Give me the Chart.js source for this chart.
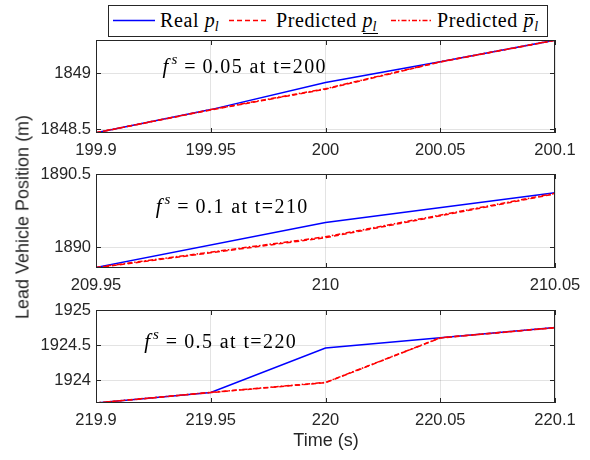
<!DOCTYPE html>
<html><head><meta charset="utf-8">
<script src="https://cdn.jsdelivr.net/npm/chart.js@4.4.1/dist/chart.umd.min.js"></script>
<style>
html,body{margin:0;padding:0;background:#fff;}
#wrap{position:relative;width:590px;height:460px;overflow:hidden;background:#fff;}
#wrap canvas{position:absolute;left:0;}
#legend{position:absolute;left:108px;top:5px;width:440px;height:32px;box-sizing:border-box;border:1px solid #262626;background:#fff;}
#legend svg{position:absolute;left:-109px;top:-6px;}
.lg{position:absolute;top:4px;font-family:"Liberation Serif",serif;font-size:20px;line-height:20px;color:#000;white-space:nowrap;letter-spacing:0.6px;}
.lg i{letter-spacing:0;}
.sb{position:relative;top:4px;font-size:14px;font-style:italic;}
.ul{position:relative;}
.ul .bar{position:absolute;left:0;right:-1px;top:24px;height:1px;background:#000;}
.ov{position:relative;font-style:italic;}
.ov .bar{position:absolute;left:1px;right:-1px;top:5px;height:1px;background:#000;}
.axt{position:absolute;font-family:"Liberation Sans",Arial,sans-serif;font-size:18px;color:#262626;white-space:nowrap;transform:translate(-50%,-50%);}
</style></head>
<body>
<div id="wrap">
  <canvas id="c1"></canvas>
  <canvas id="c2"></canvas>
  <canvas id="c3"></canvas>
  <div id="legend">
    <svg width="590" height="40">
      <line x1="113" y1="20.5" x2="155" y2="20.5" stroke="#0000ff" stroke-width="1.5"/>
      <line x1="229" y1="20.5" x2="268" y2="20.5" stroke="#ff0000" stroke-width="1.5" stroke-dasharray="5,3"/>
      <line x1="391" y1="20.5" x2="432" y2="20.5" stroke="#ff0000" stroke-width="1.5" stroke-dasharray="5,2,1.5,2"/>
    </svg>
    <span class="lg" style="left:51px">Real <i>p</i><span class="sb">l</span></span>
    <span class="lg" style="left:167px">Predicted <span class="ul"><i>p</i><span class="sb">l</span><span class="bar"></span></span></span>
    <span class="lg" style="left:328px">Predicted <span class="ov">p<span class="bar"></span></span><span class="sb">l</span></span>
  </div>
  <div class="axt" style="left:23px;top:217px;transform:translate(-50%,-50%) rotate(-90deg);">Lead Vehicle Position (m)</div>
  <div class="axt" style="left:326px;top:440px;">Time (s)</div>
</div>
<script>
// ---- data ----
const time1 = [199.9, 199.95, 200, 200.05, 200.1];
const real1 = [1848.470, 1848.676, 1848.918, 1849.102, 1849.294];
const lower1 = [1848.470, 1848.673, 1848.858, 1849.099, 1849.292];
const upper1 = [1848.471, 1848.676, 1848.862, 1849.102, 1849.294];

const time2 = [209.95, 210, 210.05];
const real2 = [1889.862, 1890.169, 1890.372];
const lower2 = [1889.859, 1890.065, 1890.364];
const upper2 = [1889.862, 1890.071, 1890.368];

const time3 = [219.9, 219.95, 220, 220.05, 220.1];
const real3 = [1923.680, 1923.830, 1924.460, 1924.605, 1924.750];
const lower3 = [1923.680, 1923.828, 1923.968, 1924.603, 1924.748];
const upper3 = [1923.681, 1923.831, 1923.972, 1924.606, 1924.751];

const xTicks1 = [199.9, 199.95, 200, 200.05, 200.1];
const xLabels1 = ['199.9', '199.95', '200', '200.05', '200.1'];
const xTicks2 = [209.95, 210, 210.05];
const xLabels2 = ['209.95', '210', '210.05'];
const xTicks3 = [219.9, 219.95, 220, 220.05, 220.1];
const xLabels3 = ['219.9', '219.95', '220', '220.05', '220.1'];

const yTicks1 = [1848.5, 1849];
const yLabels1 = ['1848.5', '1849'];
const yTicks2 = [1890, 1890.5];
const yLabels2 = ['1890', '1890.5'];
const yTicks3 = [1924, 1924.5, 1925];
const yLabels3 = ['1924', '1924.5', '1925'];

const xRange1 = [199.9, 200.1], yRange1 = [1848.468, 1849.295];
const xRange2 = [209.95, 210.05], yRange2 = [1889.858, 1890.5];
const xRange3 = [219.9, 220.1], yRange3 = [1923.68, 1925];

const annText = ['0.05 at t=200', '0.1 at t=210', '0.5 at t=220'];
const annPos = [[199.929, 1849.005], [209.963, 1890.236], [219.921, 1924.467]];

// ---- drawing ----
const AX = '#262626';
const TICKFONT = {family: '"Liberation Sans", Arial, sans-serif', size: 16.5};

const boxPlugin = {
  id: 'boxTicks',
  afterDatasetsDraw(chart) {
    const {ctx, chartArea: a, scales: {x, y}} = chart;
    ctx.save();
    ctx.strokeStyle = AX; ctx.lineWidth = 1;
    ctx.beginPath();
    x.ticks.forEach(t => {
      const px = Math.round(x.getPixelForValue(t.value)) + 0.5;
      ctx.moveTo(px, a.bottom); ctx.lineTo(px, a.bottom - 5);
      ctx.moveTo(px, a.top); ctx.lineTo(px, a.top + 5);
    });
    y.ticks.forEach(t => {
      const py = Math.round(y.getPixelForValue(t.value)) + 0.5;
      ctx.moveTo(a.left, py); ctx.lineTo(a.left + 5, py);
      ctx.moveTo(a.right, py); ctx.lineTo(a.right - 5, py);
    });
    ctx.stroke();
    ctx.strokeRect(a.left + 0.5, a.top + 0.5, a.right - a.left - 1, a.bottom - a.top - 1);
    ctx.restore();
  }
};

const annPlugin = {
  id: 'ann',
  afterDraw(chart, args, opts) {
    const {ctx, scales: {x, y}} = chart;
    const x0 = x.getPixelForValue(opts.pos[0]);
    const yb = y.getPixelForValue(opts.pos[1]);
    ctx.save();
    ctx.fillStyle = '#000'; ctx.textAlign = 'left'; ctx.textBaseline = 'alphabetic';
    ctx.font = 'italic 21px "Liberation Serif"';
    ctx.fillText('f', x0, yb);
    let cx = x0 + ctx.measureText('f').width + 3;
    ctx.font = 'italic 15px "Liberation Serif"';
    ctx.fillText('s', cx, yb - 9);
    cx += ctx.measureText('s').width + 7;
    ctx.font = '20px "Liberation Serif"';
    ctx.fillText('=', cx, yb);
    cx += ctx.measureText('=').width + 7;
    ctx.letterSpacing = '1.4px';
    ctx.fillText(opts.text, cx, yb);
    ctx.restore();
  }
};

function makeChart(id, plotTop, plotH, t, real, lower, upper, xr, yr, xt, xl, yt, yl, ann) {
  const cv = document.getElementById(id);
  const H = plotH + 10 + 35;
  cv.width = 590; cv.height = H;
  cv.style.top = (plotTop - 10) + 'px';
  const pts = arr => arr.map((v, i) => ({x: t[i], y: v}));
  return new Chart(cv, {
    type: 'line',
    data: {
      datasets: [
        {data: pts(real), borderColor: '#0000ff', borderWidth: 1.5, order: 3},
        {data: pts(lower), borderColor: '#ff0000', borderWidth: 1.5, borderDash: [5, 3], order: 2},
        {data: pts(upper), borderColor: '#ff0000', borderWidth: 1.5, borderDash: [5, 2, 1.5, 2], order: 1}
      ]
    },
    options: {
      responsive: false, animation: false, devicePixelRatio: 1,
      elements: {point: {radius: 0}, line: {tension: 0, fill: false}},
      layout: {padding: {top: 10, left: 0, right: 35, bottom: 0}},
      plugins: {legend: {display: false}, tooltip: {enabled: false}, ann: {text: ann[0], pos: ann[1]}},
      scales: {
        x: {
          type: 'linear', min: xr[0], max: xr[1],
          afterBuildTicks: s => { s.ticks = xt.map(v => ({value: v})); },
          afterFit: s => { s.height = 35; s.paddingLeft = 0; s.paddingRight = 0; },
          ticks: {callback: (v, i) => xl[i], font: TICKFONT, color: AX, padding: 7.5, maxRotation: 0, autoSkip: false},
          grid: {color: 'rgba(38,38,38,0.13)', drawTicks: false, lineWidth: 1},
          border: {display: false}
        },
        y: {
          type: 'linear', min: yr[0], max: yr[1],
          afterBuildTicks: s => { s.ticks = yt.map(v => ({value: v})); },
          afterFit: s => { s.width = 96; s.paddingTop = 0; s.paddingBottom = 0; },
          ticks: {callback: (v, i) => yl[i], font: TICKFONT, color: AX, padding: 5, autoSkip: false},
          grid: {color: 'rgba(38,38,38,0.13)', drawTicks: false, lineWidth: 1},
          border: {display: false}
        }
      }
    },
    plugins: [boxPlugin, annPlugin]
  });
}

makeChart('c1', 40, 93, time1, real1, lower1, upper1, xRange1, yRange1, xTicks1, xLabels1, yTicks1, yLabels1, [annText[0], annPos[0]]);
makeChart('c2', 174, 94, time2, real2, lower2, upper2, xRange2, yRange2, xTicks2, xLabels2, yTicks2, yLabels2, [annText[1], annPos[1]]);
makeChart('c3', 310, 93, time3, real3, lower3, upper3, xRange3, yRange3, xTicks3, xLabels3, yTicks3, yLabels3, [annText[2], annPos[2]]);
</script>
</body></html>
